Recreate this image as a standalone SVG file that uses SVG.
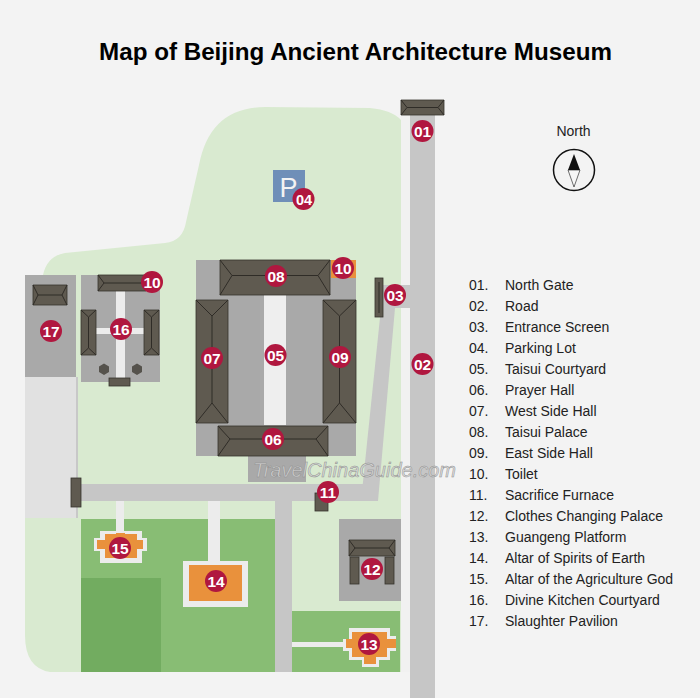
<svg xmlns="http://www.w3.org/2000/svg" width="700" height="698" viewBox="0 0 700 698">
<style>
.roof{fill:#5f5a50;stroke:#35322c;stroke-width:.8}
.ln{fill:none;stroke:#2f2c27;stroke-width:1}
.yard{fill:#a9a9a9}
.road{fill:#c6c6c6}
.pale{fill:#ececec}
.or{fill:#e9913c}
.gr{fill:#88bd74}
.b circle{fill:#b0173f}
.b text{fill:#fff;font:bold 15.500px "Liberation Sans",Arial,sans-serif;text-anchor:middle}
.lg text{fill:#222;font:14px "Liberation Sans",Arial,sans-serif}
</style>
<rect width="700" height="698" fill="#f3f3f3"/>
<text x="355.500" y="60" text-anchor="middle" font-family="Liberation Sans,Arial,sans-serif" font-size="24.200" font-weight="bold" fill="#000">Map of Beijing Ancient Architecture Museum</text>
<path d="M401 130V672H50Q25 668 25 635V275H43Q47 256 65 253L165 243Q183 241 186 222L199 165Q210 107 265 107L370 108Q392 110 401 120Z" fill="#d9ead0"/>
<g id="connectors">
<rect x="401" y="115" width="9" height="557" fill="#f1f1f1"/>
<rect class="road" x="410" y="112" width="25" height="586"/>
<rect class="road" x="383" y="285" width="27" height="23"/>
<path class="road" d="M381 308H395L378 501H361Z"/>
<rect class="road" x="78" y="484" width="300" height="17"/>
<rect class="road" x="275" y="501" width="17" height="171"/>
</g>
<g id="greens">
<rect class="gr" x="81" y="519" width="194" height="153"/>
<rect x="81" y="578" width="80" height="94" fill="#72ac60"/>
<rect class="gr" x="292" y="611" width="108" height="61"/>
<rect x="292" y="642" width="60" height="5" class="pale"/>
<rect x="116" y="501" width="8" height="32" class="pale"/>
<rect x="208" y="501" width="12" height="62" class="pale"/>
</g>
<g id="n17">
<rect x="25" y="275" width="51" height="102" class="yard"/>
<rect x="25" y="377" width="51" height="141" fill="#e1e1e1"/>
<rect x="76" y="377" width="2" height="141" fill="#c8c8c8"/>
<path class="roof" d="M33 285H67V305H33Z"/><path class="ln" d="M33 285L38 295L33 305M67 285L62 295L67 305M38 295H62"/>
<g class="b"><circle cx="51" cy="331" r="11"/><text x="51" y="336.500">17</text></g>
</g>
<g id="n16">
<rect x="81" y="275" width="79" height="107" class="yard"/>
<rect x="116" y="291" width="9" height="92" class="pale"/>
<rect x="96" y="328" width="48" height="6" class="pale"/>
<path class="roof" d="M98 275H146V291H98Z"/><path class="ln" d="M98 275L104 283L98 291M146 283H104"/>
<path class="roof" d="M81 310H96V355H81Z"/><path class="ln" d="M81 310L88.500 317L96 310M81 355L88.500 348L96 355M88.500 317V348"/>
<path class="roof" d="M144 310H159V355H144Z"/><path class="ln" d="M144 310L151.500 317L159 310M144 355L151.500 348L159 355M151.500 317V348"/>
<rect x="109" y="378" width="21" height="8" class="roof"/>
<path d="M104 363.500L109 366.500V372L104 375L99 372V366.500Z M137 363.500L142 366.500V372L137 375L132 372V366.500Z" fill="#55524c"/>
<g class="b"><circle cx="121" cy="329" r="11"/><text x="121" y="334.500">16</text></g>
<g class="b"><circle cx="152" cy="282" r="11"/><text x="152" y="287.500">10</text></g>
</g>
<g id="n05">
<rect x="196" y="260" width="160" height="196" class="yard"/>
<rect x="264" y="295" width="22" height="130" fill="#eeeeee"/>
<rect x="248" y="456" width="58" height="26" class="yard"/>
<g class="b"><circle cx="275.500" cy="355" r="11"/><text x="275.500" y="360.500">05</text></g>
</g>
<g id="n08">
<path class="roof" d="M220 260H330V295H220Z"/><path class="ln" d="M220 260L232 275.500L220 295M330 260L318 275.500L330 295M232 275.500H318"/>
<g class="b"><circle cx="276" cy="276" r="11"/><text x="276" y="281.500">08</text></g>
</g>
<g id="n10b">
<rect x="331" y="260" width="25" height="18" class="or"/>
<g class="b"><circle cx="343" cy="268" r="11"/><text x="343" y="273.500">10</text></g>
</g>
<g id="n07">
<path class="roof" d="M196 300H228V423H196Z"/><path class="ln" d="M196 300L212 316L228 300M196 423L212 403L228 423M212 316V403"/>
<g class="b"><circle cx="212" cy="358" r="11"/><text x="212" y="363.500">07</text></g>
</g>
<g id="n09">
<path class="roof" d="M323 300H356V423H323Z"/><path class="ln" d="M323 300L339.500 316L356 300M323 423L339.500 403L356 423M339.500 316V403"/>
<g class="b"><circle cx="340" cy="357" r="11"/><text x="340" y="362.500">09</text></g>
</g>
<g id="n06">
<path class="roof" d="M218 426H328V456H218Z"/><path class="ln" d="M218 426L230 439L218 456M328 426L316 439L328 456M230 439H316"/>
<g class="b"><circle cx="273" cy="439" r="11"/><text x="273" y="444.500">06</text></g>
</g>
<g id="n01">
<path class="roof" d="M401 100H444V115H401Z"/><path class="ln" d="M401 100L407 107.500L401 115M444 100L438 107.500L444 115M407 107.500H438"/>
<g class="b"><circle cx="422.500" cy="131" r="11"/><text x="422.500" y="136.500">01</text></g>
</g>
<g id="n02"><g class="b"><circle cx="422.500" cy="364" r="11"/><text x="422.500" y="369.500">02</text></g></g>
<g id="n03">
<rect x="375" y="278" width="8" height="39" class="roof"/><path class="ln" d="M379 282V313"/>
<g class="b"><circle cx="395" cy="295" r="11"/><text x="395" y="300.500">03</text></g>
</g>
<g id="n04">
<rect x="273" y="170" width="32" height="32" fill="#6f8fb8"/>
<text x="288.500" y="197" text-anchor="middle" font-family="Liberation Sans,Arial,sans-serif" font-size="27" fill="#f3f3f3">P</text>
<g class="b"><circle cx="303.500" cy="199" r="11"/><text x="304" y="204.500" style="font-size:14.500px">04</text></g>
</g>
<g id="n11">
<rect x="71" y="478" width="10" height="29" class="roof"/>
<rect x="315" y="493" width="13" height="18" class="roof"/>
<g class="b"><circle cx="328" cy="492" r="11"/><text x="328" y="497.500">11</text></g>
</g>
<g id="n12">
<rect x="339" y="519" width="62" height="82" class="yard"/>
<path class="roof" d="M349 540H395V556H349Z"/><path class="ln" d="M349 540L355 548L349 556M395 540L389 548L395 556M355 548H389"/>
<rect x="350" y="557" width="9" height="27" class="roof"/><rect x="385" y="557" width="9" height="27" class="roof"/>
<g class="b"><circle cx="372" cy="569" r="11"/><text x="372" y="574.500">12</text></g>
</g>
<g id="n13">
<path class="pale" d="M343 639H349V628H390V636H396V651H390V660H379V667H362V660H349V651H343Z"/>
<path class="or" d="M346 639H352V632H387V639H396V648H387V657H376V664H364V657H352V648H346Z"/>
<g class="b"><circle cx="369" cy="644" r="11"/><text x="369" y="649.500">13</text></g>
</g>
<g id="n14">
<rect x="183" y="561" width="65" height="46" class="pale"/>
<rect x="189" y="565" width="53" height="36" class="or"/>
<g class="b"><circle cx="216" cy="581" r="11"/><text x="216" y="586.500">14</text></g>
</g>
<g id="n15">
<path class="pale" d="M94 538H100V531H142V538H147V551H142V563H100V551H94Z"/>
<path class="or" d="M97 540H105V534H116V533H125V534H137V540H143V549H137V558H105V549H97Z"/>
<g class="b"><circle cx="120" cy="548" r="11"/><text x="120" y="553.500">15</text></g>
</g>
<text x="354.500" y="477" text-anchor="middle" font-family="Liberation Sans,Arial,sans-serif" font-size="20" font-style="italic" fill="#d8d8d8" fill-opacity=".8" stroke="#8e8e8e" stroke-width=".5">TravelChinaGuide.com</text>
<g id="north">
<text x="573.500" y="136" text-anchor="middle" font-family="Liberation Sans,Arial,sans-serif" font-size="14" fill="#222">North</text>
<circle cx="574" cy="170" r="20.500" fill="none" stroke="#111" stroke-width="1.500"/>
<path d="M574 154L580 170H568Z" fill="#111"/><path d="M568 170H580L574 187Z" fill="#f7f7f7" stroke="#111" stroke-width=".6"/>
</g>
<g id="legend" class="lg">
<text x="469" y="290">01.</text><text x="505" y="290">North Gate</text>
<text x="469" y="311">02.</text><text x="505" y="311">Road</text>
<text x="469" y="332">03.</text><text x="505" y="332">Entrance Screen</text>
<text x="469" y="353">04.</text><text x="505" y="353">Parking Lot</text>
<text x="469" y="374">05.</text><text x="505" y="374">Taisui Courtyard</text>
<text x="469" y="395">06.</text><text x="505" y="395">Prayer Hall</text>
<text x="469" y="416">07.</text><text x="505" y="416">West Side Hall</text>
<text x="469" y="437">08.</text><text x="505" y="437">Taisui Palace</text>
<text x="469" y="458">09.</text><text x="505" y="458">East Side Hall</text>
<text x="469" y="479">10.</text><text x="505" y="479">Toilet</text>
<text x="469" y="500">11.</text><text x="505" y="500">Sacrifice Furnace</text>
<text x="469" y="521">12.</text><text x="505" y="521">Clothes Changing Palace</text>
<text x="469" y="542">13.</text><text x="505" y="542">Guangeng Platform</text>
<text x="469" y="563">14.</text><text x="505" y="563">Altar of Spirits of Earth</text>
<text x="469" y="584">15.</text><text x="505" y="584">Altar of the Agriculture God</text>
<text x="469" y="605">16.</text><text x="505" y="605">Divine Kitchen Courtyard</text>
<text x="469" y="626">17.</text><text x="505" y="626">Slaughter Pavilion</text>
</g>
</svg>
